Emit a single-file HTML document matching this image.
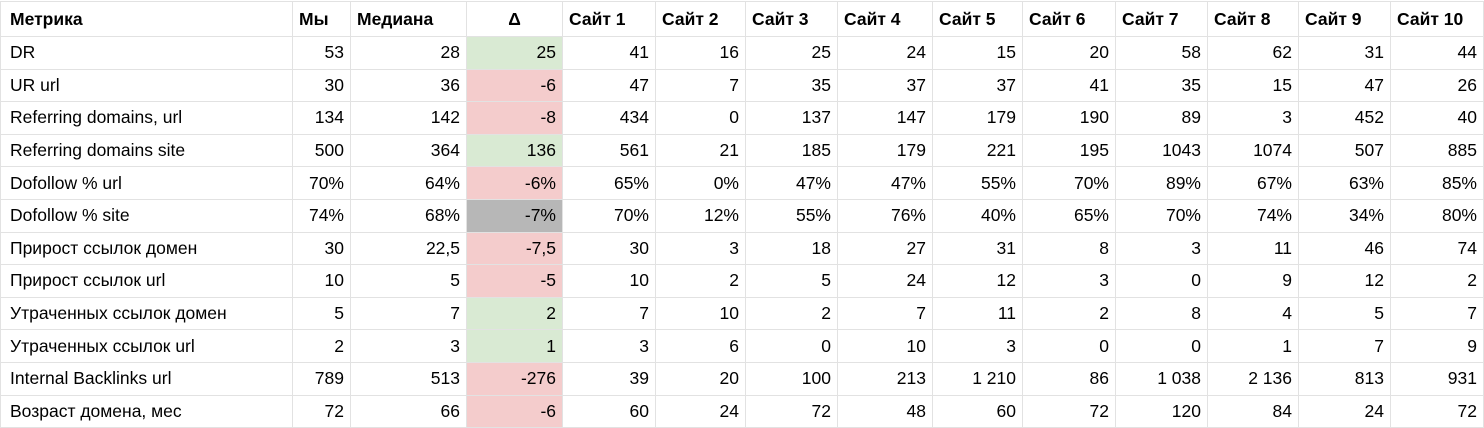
<!DOCTYPE html><html><head><meta charset="utf-8"><style>
body{margin:0;background:#fff;width:1484px;height:428px;overflow:hidden;font-family:"Liberation Sans",Arial,sans-serif;font-size:17.5px;color:#000}
table{border-collapse:collapse;table-layout:fixed;position:absolute;left:0;top:1px}
td{border:1px solid #e2e2e2;height:32.6px;padding:0 6px;text-align:right;white-space:nowrap;box-sizing:border-box}
td:first-child{text-align:left;padding-left:9px}
tr:first-child td{font-weight:bold;text-align:left;height:35px}
tr:first-child td:nth-child(4){text-align:center}
.g{background:#d9ead3}.r{background:#f4cccc}.k{background:#b7b7b7}
</style></head><body><table>
<colgroup><col style="width:292px"><col style="width:58px"><col style="width:116px"><col style="width:96px"><col style="width:93px"><col style="width:90px"><col style="width:92px"><col style="width:95px"><col style="width:90px"><col style="width:93px"><col style="width:92px"><col style="width:91px"><col style="width:92px"><col style="width:93px"></colgroup>
<tr><td>Метрика</td><td>Мы</td><td>Медиана</td><td>Δ</td><td>Сайт 1</td><td>Сайт 2</td><td>Сайт 3</td><td>Сайт 4</td><td>Сайт 5</td><td>Сайт 6</td><td>Сайт 7</td><td>Сайт 8</td><td>Сайт 9</td><td>Сайт 10</td></tr>
<tr><td>DR</td><td>53</td><td>28</td><td class="g">25</td><td>41</td><td>16</td><td>25</td><td>24</td><td>15</td><td>20</td><td>58</td><td>62</td><td>31</td><td>44</td></tr>
<tr><td>UR url</td><td>30</td><td>36</td><td class="r">-6</td><td>47</td><td>7</td><td>35</td><td>37</td><td>37</td><td>41</td><td>35</td><td>15</td><td>47</td><td>26</td></tr>
<tr><td>Referring domains, url</td><td>134</td><td>142</td><td class="r">-8</td><td>434</td><td>0</td><td>137</td><td>147</td><td>179</td><td>190</td><td>89</td><td>3</td><td>452</td><td>40</td></tr>
<tr><td>Referring domains site</td><td>500</td><td>364</td><td class="g">136</td><td>561</td><td>21</td><td>185</td><td>179</td><td>221</td><td>195</td><td>1043</td><td>1074</td><td>507</td><td>885</td></tr>
<tr><td>Dofollow % url</td><td>70%</td><td>64%</td><td class="r">-6%</td><td>65%</td><td>0%</td><td>47%</td><td>47%</td><td>55%</td><td>70%</td><td>89%</td><td>67%</td><td>63%</td><td>85%</td></tr>
<tr><td>Dofollow % site</td><td>74%</td><td>68%</td><td class="k">-7%</td><td>70%</td><td>12%</td><td>55%</td><td>76%</td><td>40%</td><td>65%</td><td>70%</td><td>74%</td><td>34%</td><td>80%</td></tr>
<tr><td>Прирост ссылок домен</td><td>30</td><td>22,5</td><td class="r">-7,5</td><td>30</td><td>3</td><td>18</td><td>27</td><td>31</td><td>8</td><td>3</td><td>11</td><td>46</td><td>74</td></tr>
<tr><td>Прирост ссылок url</td><td>10</td><td>5</td><td class="r">-5</td><td>10</td><td>2</td><td>5</td><td>24</td><td>12</td><td>3</td><td>0</td><td>9</td><td>12</td><td>2</td></tr>
<tr><td>Утраченных ссылок домен</td><td>5</td><td>7</td><td class="g">2</td><td>7</td><td>10</td><td>2</td><td>7</td><td>11</td><td>2</td><td>8</td><td>4</td><td>5</td><td>7</td></tr>
<tr><td>Утраченных ссылок url</td><td>2</td><td>3</td><td class="g">1</td><td>3</td><td>6</td><td>0</td><td>10</td><td>3</td><td>0</td><td>0</td><td>1</td><td>7</td><td>9</td></tr>
<tr><td>Internal Backlinks url</td><td>789</td><td>513</td><td class="r">-276</td><td>39</td><td>20</td><td>100</td><td>213</td><td>1 210</td><td>86</td><td>1 038</td><td>2 136</td><td>813</td><td>931</td></tr>
<tr><td>Возраст домена, мес</td><td>72</td><td>66</td><td class="r">-6</td><td>60</td><td>24</td><td>72</td><td>48</td><td>60</td><td>72</td><td>120</td><td>84</td><td>24</td><td>72</td></tr>
</table></body></html>
